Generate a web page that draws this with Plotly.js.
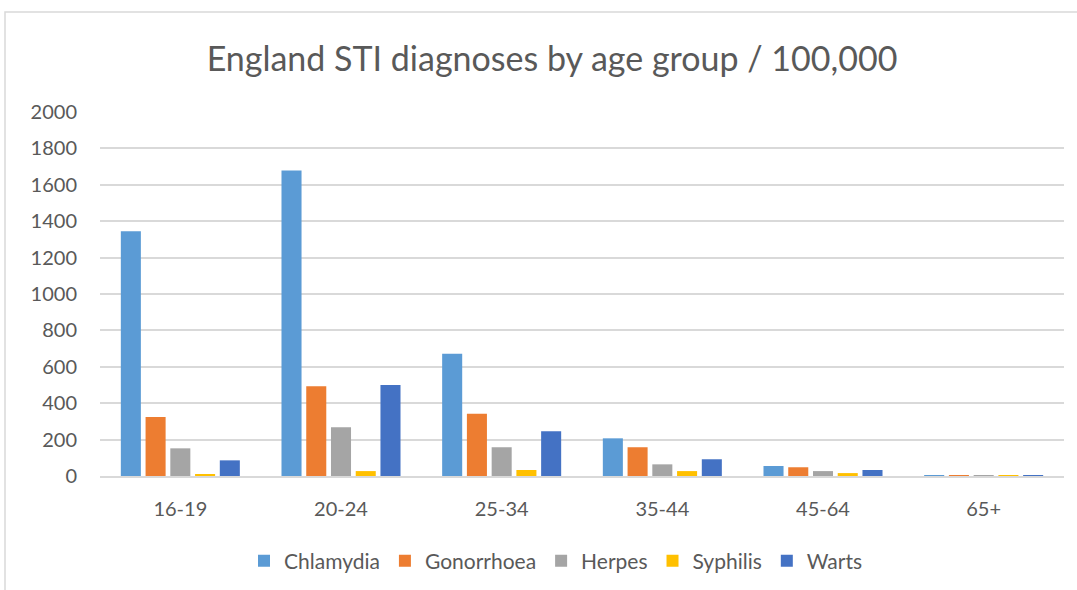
<!DOCTYPE html>
<html>
<head>
<meta charset="utf-8">
<script src="https://cdn.plot.ly/plotly-3.0.1.min.js"></script>
<style>
html,body{margin:0;padding:0;background:#fff;}
#chart{width:1077px;height:590px;}
</style>
</head>
<body>
<div id="chart"></div>
<script>
const ageGroups = ["16-19", "20-24", "25-34", "35-44", "45-64", "65+"];
const chlamydia = [1345, 1678, 672, 207, 55, 4];
const gonorrhoea = [324, 493, 342, 158, 48, 2];
const herpes = [152, 268, 158, 64, 27, 2];
const syphilis = [10, 27, 33, 27, 16, 1];
const warts = [86, 500, 246, 92, 33, 4];
const yTicks = [0, 200, 400, 600, 800, 1000, 1200, 1400, 1600, 1800, 2000];

const seriesNames = ["Chlamydia", "Gonorrhoea", "Herpes", "Syphilis", "Warts"];
const seriesValues = [chlamydia, gonorrhoea, herpes, syphilis, warts];
const seriesColors = ["#5B9BD5", "#ED7D31", "#A5A5A5", "#FFC000", "#4472C4"];

const traces = seriesNames.map((n, i) => ({
  type: "bar",
  name: n,
  x: ageGroups,
  y: seriesValues[i],
  marker: {color: seriesColors[i], line: {width: 0}},
  hoverinfo: "x+y+name"
}));

const font = "Lato, 'Open Sans', sans-serif";
const layout = {
  width: 1077, height: 590,
  margin: {l: 100, r: 13, t: 112, b: 114, autoexpand: false},
  paper_bgcolor: "#ffffff",
  plot_bgcolor: "#ffffff",
  barmode: "group",
  bargap: 0.23,
  bargroupgap: 0.19,
  title: {
    text: "England STI diagnoses by age group / 100,000",
    font: {family: font, size: 34, color: "#595959"},
    x: 552/1077, xanchor: "center", xref: "container",
    y: 1 - 59/590, yanchor: "middle", yref: "container",
    automargin: false
  },
  xaxis: {
    type: "category",
    automargin: false,
    showgrid: false,
    showline: true, linecolor: "#d9d9d9", linewidth: 1.5,
    ticks: "",
    tickfont: {family: font, size: 20, color: "#595959"},
    ticklabelstandoff: 14,
    zeroline: false
  },
  yaxis: {
    automargin: false,
    range: [0, 2000],
    tickvals: yTicks,
    ticktext: yTicks.map(String),
    showgrid: true, gridcolor: "#d9d9d9", gridwidth: 1.5,
    zeroline: false, showline: false,
    ticks: "",
    tickfont: {family: font, size: 20, color: "#595959"},
    ticklabelstandoff: 22
  },
  legend: {
    orientation: "h",
    xref: "container", yref: "container",
    x: 556 / 1077, xanchor: "center",
    y: 1 - 561 / 590, yanchor: "middle",
    font: {family: font, size: 21, color: "#595959"},
    itemwidth: 30,
    traceorder: "normal"
  },
  shapes: [{
    type: "rect", xref: "paper", yref: "paper",
    x0: (5 - 100) / 964, x1: 1.2,
    y0: -0.6, y1: (476 - 12) / 364,
    line: {color: "#d9d9d9", width: 1.5},
    fillcolor: "rgba(0,0,0,0)",
    layer: "below"
  }],
  showlegend: true
};

Plotly.newPlot("chart", traces, layout, {displayModeBar: false, responsive: false});
</script>
</body>
</html>
